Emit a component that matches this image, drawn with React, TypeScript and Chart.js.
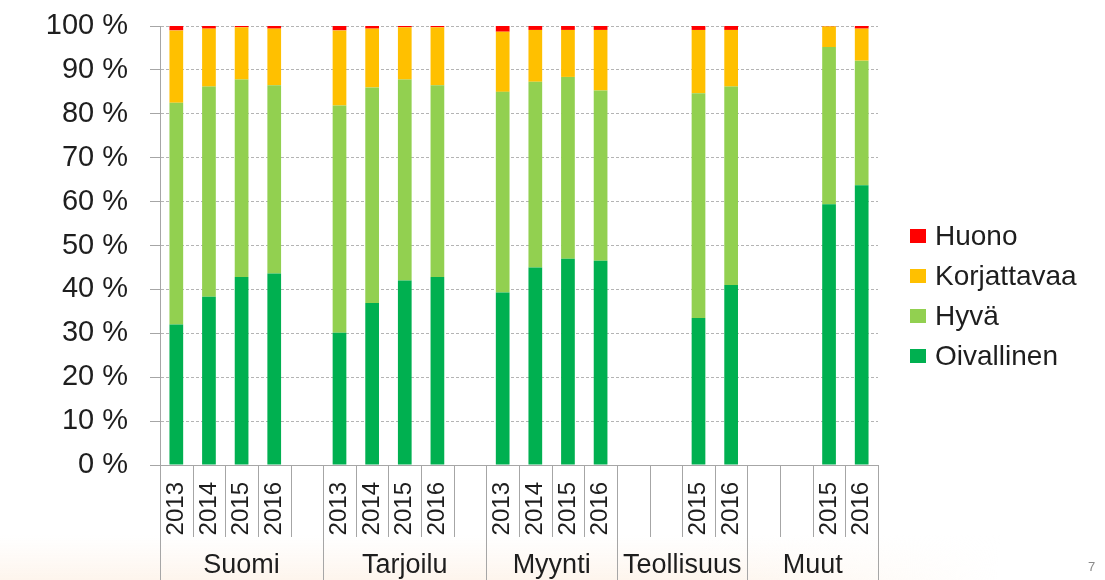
import React, { useEffect, useRef } from 'react';
import { Chart, registerables } from 'chart.js';

Chart.register(...registerables);

const yearLabels = ['2013', '2014', '2015', '2016', '', '2013', '2014', '2015', '2016', '', '2013', '2014', '2015', '2016', '', '', '2015', '2016', '', '', '2015', '2016'];
const groupNames = ['Suomi', 'Tarjoilu', 'Myynti', 'Teollisuus', 'Muut'];
const groupSizes = [5, 5, 4, 4, 4];

const oivallinen = [32.0, 38.3, 42.8, 43.6, null, 30.1, 36.9, 42.0, 42.8, null, 39.3, 45.0, 47.0, 46.5, null, null, 33.5, 41.0, null, null, 59.4, 63.7];
const hyva = [50.5, 47.9, 45.0, 42.9, null, 51.8, 49.1, 45.8, 43.7, null, 45.7, 42.3, 41.4, 38.8, null, null, 51.2, 45.2, null, null, 35.8, 28.4];
const korjattavaa = [16.5, 13.2, 11.9, 12.9, null, 17.1, 13.4, 11.9, 13.2, null, 13.7, 11.8, 10.7, 13.8, null, null, 14.4, 12.9, null, null, 4.7, 7.3];
const huono = [1.0, 0.6, 0.3, 0.6, null, 1.0, 0.6, 0.3, 0.3, null, 1.3, 0.9, 0.9, 0.9, null, null, 0.9, 0.9, null, null, 0.1, 0.6];

const seriesNames = ['Oivallinen', 'Hyvä', 'Korjattavaa', 'Huono'];
const seriesColors = ['#00B050', '#92D050', '#FFC000', '#FF0000'];

const FONT = '"Liberation Sans", Arial, sans-serif';
const TEXT = '#1e1e1e';
const LINE = '#a6a6a6';

const decorPlugin = {
  id: 'decor',
  beforeDraw(chart: any) {
    const { ctx, height } = chart;
    ctx.save();
    const g = ctx.createLinearGradient(0, 535, 0, height);
    g.addColorStop(0, 'rgba(252,240,230,0)');
    g.addColorStop(1, 'rgba(252,238,224,0.6)');
    ctx.fillStyle = g;
    ctx.fillRect(0, 535, 1105, height - 535);
    const h = ctx.createLinearGradient(700, 0, 1000, 0);
    h.addColorStop(0, 'rgba(255,255,255,0)');
    h.addColorStop(1, 'rgba(255,255,255,1)');
    ctx.fillStyle = h;
    ctx.fillRect(700, 535, 405, height - 535);
    ctx.restore();
  },
  afterDraw(chart: any) {
    const { ctx, chartArea, height } = chart;
    const xs = chart.scales.x;
    const n = yearLabels.length;
    const half = (xs.getPixelForValue(1) - xs.getPixelForValue(0)) / 2;
    const bound = (i: number) => (i < n ? xs.getPixelForValue(i) - half : xs.getPixelForValue(n - 1) + half);
    const groupStarts: number[] = [0];
    groupSizes.forEach((s) => groupStarts.push(groupStarts[groupStarts.length - 1] + s));

    ctx.save();
    ctx.strokeStyle = LINE;
    ctx.lineWidth = 1;
    for (let i = 0; i <= n; i++) {
      const px = Math.round(bound(i)) + 0.5;
      const isGroup = groupStarts.includes(i);
      ctx.beginPath();
      ctx.moveTo(px, chartArea.bottom);
      ctx.lineTo(px, isGroup ? height : chartArea.bottom + 72);
      ctx.stroke();
    }

    ctx.fillStyle = TEXT;
    ctx.font = `27px ${FONT}`;
    ctx.textAlign = 'center';
    ctx.textBaseline = 'middle';
    groupNames.forEach((name, gi) => {
      const a = bound(groupStarts[gi]);
      const b = bound(groupStarts[gi + 1]);
      ctx.fillText(name, (a + b) / 2, 566);
    });

    // legend
    const ds = chart.data.datasets;
    ctx.textAlign = 'left';
    ctx.font = `28px ${FONT}`;
    for (let k = 0; k < ds.length; k++) {
      const d = ds[ds.length - 1 - k];
      const cy = 236 + k * 40;
      ctx.fillStyle = d.backgroundColor;
      ctx.fillRect(910, cy - 7, 16, 14);
      ctx.fillStyle = TEXT;
      ctx.fillText(d.label, 935, cy + 1);
    }

    ctx.fillStyle = '#8a8a8a';
    ctx.font = `13px ${FONT}`;
    ctx.fillText('7', 1088, 567);
    ctx.restore();
  },
};

export default function App() {
  const ref = useRef<HTMLCanvasElement | null>(null);

  useEffect(() => {
    if (!ref.current) return;
    const series = [oivallinen, hyva, korjattavaa, huono];
    const chart = new Chart(ref.current, {
      type: 'bar',
      data: {
        labels: yearLabels,
        datasets: series.map((data, i) => ({
          label: seriesNames[i],
          data,
          backgroundColor: seriesColors[i],
          borderWidth: 0,
          barPercentage: 0.42,
          categoryPercentage: 1,
        })),
      },
      options: {
        responsive: false,
        animation: false,
        layout: { padding: { top: 26, right: 227, bottom: 0, left: 0 } },
        plugins: {
          legend: { display: false },
          tooltip: { enabled: false },
        },
        scales: {
          x: {
            stacked: true,
            offset: true,
            grid: { display: false, drawTicks: false },
            border: { display: true, color: LINE, width: 1 },
            ticks: {
              autoSkip: false,
              minRotation: 90,
              maxRotation: 90,
              padding: 17,
              color: TEXT,
              font: { family: FONT, size: 24 },
            },
            afterFit: (scale: any) => {
              scale.height = 115;
            },
          },
          y: {
            stacked: true,
            min: 0,
            max: 100,
            ticks: {
              stepSize: 10,
              padding: 22,
              color: TEXT,
              font: { family: FONT, size: 29 },
              callback: (v: any) => `${v} %`,
            },
            grid: {
              color: '#b4b4b4',
              lineWidth: 1,
              tickLength: 10,
              tickColor: LINE,
              tickBorderDash: [],
            },
            border: { display: true, color: LINE, width: 1, dash: [3, 2] },
            afterFit: (scale: any) => {
              scale.width = 160;
              scale.paddingTop = 8;
              scale.paddingBottom = 8;
            },
          },
        },
      },
      plugins: [decorPlugin],
    });
    return () => chart.destroy();
  }, []);

  return (
    <div style={{ position: 'fixed', left: 0, top: 0, width: 1105, height: 580, background: '#fff' }}>
      <canvas ref={ref} width={1105} height={580} style={{ display: 'block' }} />
    </div>
  );
}
